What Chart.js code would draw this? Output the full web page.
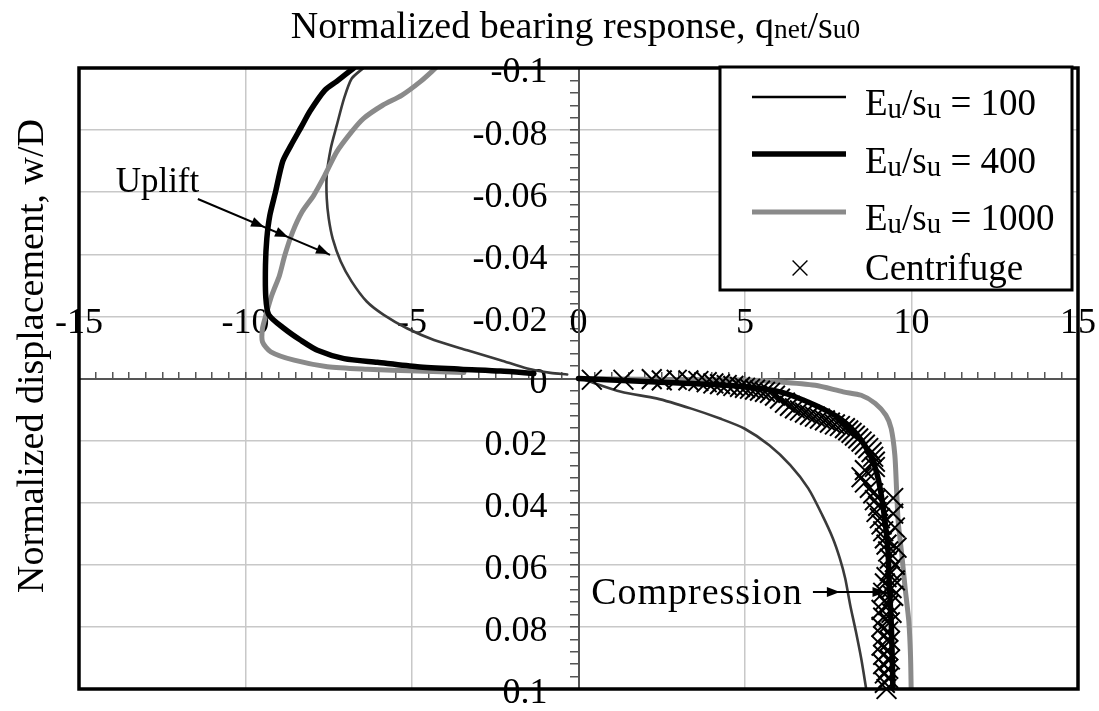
<!DOCTYPE html>
<html>
<head>
<meta charset="utf-8">
<title>Normalized bearing response</title>
<script src="https://cdn.jsdelivr.net/npm/chart.js@4.4.1/dist/chart.umd.min.js"></script>
<style>
  html, body { margin: 0; padding: 0; background: #fff; }
  canvas { display: block; }
</style>
</head>
<body>
<canvas id="chart" width="1099" height="711"></canvas>
<script>
// ---- Data: normalized bearing response q/su0 (Q) against normalized displacement w/D (W) ----
// Eu/su = 100
const eu100UpliftQ = [-6.46, -6.81, -7.04, -7.26, -7.44, -7.56, -7.56, -7.50, -7.38, -7.14, -6.81, -6.36, -5.85, -5.14, -4.34, -3.34, -2.34, -1.54, -0.84, -0.34];
const eu100UpliftW = [-0.1, -0.0966, -0.0902, -0.0815, -0.0741, -0.0654, -0.058, -0.0515, -0.045, -0.0377, -0.0312, -0.0248, -0.0205, -0.0161, -0.0124, -0.0091, -0.0059, -0.0032, -0.0018, -0.0013];
const eu100CompQ = [0.2, 1.28, 2.34, 3.39, 4.25, 4.98, 5.73, 6.36, 6.90, 7.32, 7.64, 7.85, 8.01, 8.16, 8.33, 8.49, 8.64];
const eu100CompW = [0.0005, 0.0043, 0.0064, 0.0097, 0.0129, 0.0161, 0.0215, 0.0279, 0.0354, 0.044, 0.0515, 0.058, 0.0644, 0.073, 0.0815, 0.0902, 0.1];

// Eu/su = 400
const eu400UpliftQ = [-6.75, -7.26, -7.62, -8.07, -8.30, -8.64, -8.88, -9.10, -9.27, -9.36, -9.40, -9.39, -9.30, -8.84, -8.34, -7.84, -7.04, -6.04, -4.84, -3.54, -2.34, -1.34];
const eu400UpliftW = [-0.1, -0.0957, -0.0928, -0.086, -0.0815, -0.075, -0.070, -0.060, -0.0525, -0.045, -0.0365, -0.026, -0.0205, -0.0161, -0.0123, -0.0091, -0.0064, -0.0052, -0.0038, -0.003, -0.0024, -0.0016];
const eu400CompQ = [0, 2.34, 4.46, 6.05, 7.11, 7.85, 8.38, 8.81, 9.02, 9.18, 9.29, 9.33, 9.39, 9.42, 9.44];
const eu400CompW = [0, 0.0011, 0.0022, 0.0043, 0.0086, 0.0129, 0.0183, 0.0258, 0.0333, 0.044, 0.0547, 0.0655, 0.0784, 0.0891, 0.1];

// Eu/su = 1000
const eu1000UpliftQ = [-4.29, -4.74, -5.31, -5.88, -6.46, -6.81, -7.26, -7.62, -7.95, -8.30, -8.58, -8.82, -8.98, -9.21, -9.39, -9.49, -9.49, -9.24, -8.54, -7.54, -6.34, -4.84, -3.44];
const eu1000UpliftW = [-0.1, -0.0957, -0.0912, -0.088, -0.0837, -0.0795, -0.073, -0.0654, -0.059, -0.0537, -0.0473, -0.0397, -0.0332, -0.0268, -0.0203, -0.0161, -0.0118, -0.0086, -0.0059, -0.0038, -0.003, -0.0024, -0.0019];
const eu1000CompQ = [0, 2.5, 4.98, 6.05, 7.11, 7.95, 8.49, 8.91, 9.23, 9.39, 9.50, 9.55, 9.60, 9.71, 9.81, 9.92, 9.97, 9.99];
const eu1000CompW = [0, 0.0003, 0.0005, 0.0011, 0.0022, 0.0043, 0.0054, 0.008, 0.0118, 0.0161, 0.0247, 0.0354, 0.046, 0.0569, 0.0676, 0.0783, 0.0891, 0.1];

// Centrifuge test (compression)
const centrifugeQ = [0.40, 1.35, 2.20, 2.50, 2.95, 3.30, 3.60, 3.85, 4.05, 4.25, 4.45, 4.65, 4.85, 5.00, 5.15, 5.30, 5.45, 5.60, 5.75,
  5.90, 6.05, 6.20, 6.35, 6.50, 6.65, 6.80, 6.95, 7.10, 7.25, 7.40, 7.55, 7.70, 7.85, 8.00, 8.10, 8.20, 8.30, 8.40, 8.50, 8.60, 8.70, 8.80, 8.85, 8.90, 8.90,
  8.60, 8.50, 8.60, 8.75, 8.85, 8.90, 9.00, 9.45, 8.95, 9.05, 9.45, 9.10, 9.15, 9.50, 9.20, 9.25, 9.55, 9.30, 9.35, 9.50,
  9.35, 9.25, 9.50, 9.20, 9.40, 9.15, 9.45, 9.20, 9.30, 9.10, 9.40, 9.15, 9.35, 9.10, 9.30, 9.15, 9.35, 9.10, 9.30, 9.15, 9.35, 9.15, 9.30, 9.20, 9.30, 9.20, 9.25];
const centrifugeW = [0.0004, 0.0004, 0.0002, 0.0006, 0.0004, 0.0006, 0.0008, 0.0012, 0.0016, 0.0018, 0.0021, 0.0024, 0.0027, 0.0030, 0.0033, 0.0036, 0.0039, 0.0043, 0.0046,
  0.0055, 0.0065, 0.0078, 0.0088, 0.0096, 0.0103, 0.0110, 0.0117, 0.0123, 0.0129, 0.0135, 0.0142, 0.0148, 0.0153, 0.0160, 0.0167, 0.0175, 0.0184, 0.0193, 0.0203, 0.0213, 0.0224, 0.0237, 0.0252, 0.0268, 0.0285,
  0.0295, 0.0318, 0.0335, 0.0352, 0.0370, 0.0392, 0.0410, 0.0385, 0.0430, 0.0450, 0.0435, 0.0470, 0.0492, 0.0480, 0.0515, 0.0535, 0.0545, 0.0557, 0.0580, 0.0600,
  0.0620, 0.0640, 0.0650, 0.0660, 0.0675, 0.0690, 0.0700, 0.0715, 0.0730, 0.0745, 0.0755, 0.0770, 0.0785, 0.0800, 0.0815, 0.0830, 0.0845, 0.0860, 0.0875, 0.0890, 0.0905, 0.0920, 0.0935, 0.0950, 0.0965, 0.0980, 0.1000];

// Axis ranges and tick steps
const qRange = [-15, 15];
const wRange = [-0.1, 0.1];
const qMajorStep = 5, qMinorStep = 0.5;
const wMajorStep = 0.02, wMinorStep = 0.004;

// ---- Styling ----
const FONT = '"Liberation Serif", "Times New Roman", Times, serif';
const series = {
  e100:  { label: 'Eu/su = 100',  color: '#3a3a3a', width: 2.6 },
  e400:  { label: 'Eu/su = 400',  color: '#000000', width: 5.5 },
  e1000: { label: 'Eu/su = 1000', color: '#8a8a8a', width: 5 },
  cent:  { label: 'Centrifuge',   color: '#000000' }
};

const toPoints = (qs, ws) => qs.map((q, i) => ({ x: q, y: ws[i] }));
const isMultiple = (v, step) => Math.abs(v / step - Math.round(v / step)) < 1e-6;

function curve(key, qs, ws) {
  const s = series[key];
  return {
    key, label: s.label, data: toPoints(qs, ws), showLine: true,
    borderColor: s.color, backgroundColor: s.color, borderWidth: s.width,
    pointRadius: 0, tension: 0.25, borderJoinStyle: 'round', borderCapStyle: 'round'
  };
}

// first dataset is drawn on top
const datasets = [
  curve('e400', eu400UpliftQ, eu400UpliftW),
  curve('e400', eu400CompQ, eu400CompW),
  {
    key: 'cent', label: series.cent.label, data: toPoints(centrifugeQ, centrifugeW), showLine: false,
    pointStyle: 'crossRot', pointRadius: 14, borderWidth: 2, borderColor: '#000', backgroundColor: 'rgba(0,0,0,0)',
    clip: false
  },
  curve('e1000', eu1000UpliftQ, eu1000UpliftW),
  curve('e1000', eu1000CompQ, eu1000CompW),
  curve('e100', eu100UpliftQ, eu100UpliftW),
  curve('e100', eu100CompQ, eu100CompW)
];

// legend rows (text with subscripts)
const sub = t => ({ t, s: 0.78, dy: 3 });
const legendRows = [
  { key: 'e100',  parts: [{ t: 'E' }, sub('u'), { t: '/s' }, sub('u'), { t: ' = 100' }] },
  { key: 'e400',  parts: [{ t: 'E' }, sub('u'), { t: '/s' }, sub('u'), { t: ' = 400' }] },
  { key: 'e1000', parts: [{ t: 'E' }, sub('u'), { t: '/s' }, sub('u'), { t: ' = 1000' }] },
  { key: 'cent',  parts: [{ t: 'Centrifuge' }] }
];

// annotation anchors in data units
const upliftNote = { text: 'Uplift', q: -13.9, w: -0.0601,
  from: [-11.43, -0.0578], to: [-7.46, -0.0398], heads: [[-9.44, -0.0488], [-8.72, -0.0456], [-7.49, -0.0401]] };
const compressionNote = { text: 'Compression', q: 0.38, w: 0.0725,
  from: [7.04, 0.0688], to: [9.25, 0.0688], heads: [[7.85, 0.0688], [9.22, 0.0688]] };

function richWidth(ctx, parts, size) {
  let w = 0;
  for (const p of parts) { ctx.font = `${size * (p.s || 1)}px ${FONT}`; w += ctx.measureText(p.t).width; }
  return w;
}
function drawRich(ctx, parts, x, y, size) {
  for (const p of parts) {
    ctx.font = `${size * (p.s || 1)}px ${FONT}`;
    ctx.fillText(p.t, x, y + (p.dy || 0));
    x += ctx.measureText(p.t).width;
  }
}
function arrowHead(ctx, x, y, ang, len, half) {
  ctx.beginPath();
  ctx.moveTo(x, y);
  ctx.lineTo(x - len * Math.cos(ang) + half * Math.sin(ang), y - len * Math.sin(ang) - half * Math.cos(ang));
  ctx.lineTo(x - len * Math.cos(ang) - half * Math.sin(ang), y - len * Math.sin(ang) + half * Math.cos(ang));
  ctx.closePath();
  ctx.fill();
}
function drawNote(ctx, xs, ys, note, size) {
  ctx.fillStyle = '#000';
  ctx.strokeStyle = '#000';
  ctx.textAlign = 'left';
  ctx.textBaseline = 'alphabetic';
  ctx.font = `${size}px ${FONT}`;
  ctx.fillText(note.text, xs.getPixelForValue(note.q), ys.getPixelForValue(note.w));
  const x1 = xs.getPixelForValue(note.from[0]), y1 = ys.getPixelForValue(note.from[1]);
  const x2 = xs.getPixelForValue(note.to[0]), y2 = ys.getPixelForValue(note.to[1]);
  ctx.lineWidth = 2;
  ctx.beginPath(); ctx.moveTo(x1, y1); ctx.lineTo(x2, y2); ctx.stroke();
  const ang = Math.atan2(y2 - y1, x2 - x1);
  for (const h of note.heads) arrowHead(ctx, xs.getPixelForValue(h[0]), ys.getPixelForValue(h[1]), ang, 13, 5);
}

const decorPlugin = {
  id: 'decor',
  beforeDraw(chart) {
    const { ctx, width, height } = chart;
    ctx.save(); ctx.fillStyle = '#fff'; ctx.fillRect(0, 0, width, height); ctx.restore();
  },
  afterDatasetsDraw(chart) {
    const { ctx, chartArea: a, scales: { x, y } } = chart;
    ctx.save();

    // plot frame
    ctx.strokeStyle = '#000';
    ctx.lineWidth = 3.5;
    ctx.strokeRect(a.left, a.top, a.right - a.left, a.bottom - a.top);

    // annotations
    drawNote(ctx, x, y, upliftNote, 35);
    ctx.letterSpacing = '1px';
    drawNote(ctx, x, y, compressionNote, 38);
    ctx.letterSpacing = '0px';

    // legend box
    const L = { left: a.left + 641, top: a.top - 1, right: a.right - 6, bottom: a.top + 222 };
    ctx.fillStyle = '#fff';
    ctx.fillRect(L.left, L.top, L.right - L.left, L.bottom - L.top);
    ctx.strokeStyle = '#000';
    ctx.lineWidth = 3;
    ctx.strokeRect(L.left, L.top, L.right - L.left, L.bottom - L.top);
    const rowMark = [30, 87, 145, 201];
    const rowText = [48, 106, 163, 213];
    legendRows.forEach((row, i) => {
      const ds = chart.data.datasets.find(d => d.key === row.key);
      const my = L.top + rowMark[i];
      if (ds.showLine) {
        ctx.strokeStyle = row.key === 'e100' ? '#000' : ds.borderColor;
        ctx.lineWidth = ds.borderWidth;
        ctx.lineCap = 'butt';
        ctx.beginPath(); ctx.moveTo(L.left + 32, my); ctx.lineTo(L.left + 126, my); ctx.stroke();
      } else {
        ctx.strokeStyle = ds.borderColor;
        ctx.lineWidth = 1.4;
        Chart.helpers.drawPoint(ctx, { pointStyle: ds.pointStyle, radius: 10.5, borderWidth: 1.4, rotation: 0 }, L.left + 80, my);
      }
      ctx.fillStyle = '#000';
      ctx.textAlign = 'left';
      ctx.textBaseline = 'alphabetic';
      drawRich(ctx, row.parts, L.left + 145, L.top + rowText[i], 37);
    });

    // axis titles
    const titleParts = [{ t: 'Normalized bearing response, ' }, { t: 'q' }, { t: 'net', s: 0.72 }, { t: '/' }, { t: 's' }, { t: 'u0', s: 0.72 }];
    const tw = richWidth(ctx, titleParts, 38);
    ctx.fillStyle = '#000';
    drawRich(ctx, titleParts, (a.left + a.right) / 2 - tw / 2 - 3, 38, 38);

    ctx.translate(43, 356);
    ctx.rotate(-Math.PI / 2);
    ctx.font = `38px ${FONT}`;
    ctx.textAlign = 'center';
    ctx.fillText('Normalized displacement, w/D', 0, 0);
    ctx.restore();
  }
};

const zeroPadding = s => { s.paddingLeft = 0; s.paddingRight = 0; s.paddingTop = 0; s.paddingBottom = 0; };

new Chart(document.getElementById('chart'), {
  type: 'scatter',
  data: { datasets },
  options: {
    responsive: false,
    animation: false,
    devicePixelRatio: 1,
    events: [],
    layout: { padding: { left: 79, top: 68, right: 21, bottom: 22 } },
    plugins: { legend: { display: false }, tooltip: { enabled: false } },
    scales: {
      x: {
        type: 'linear', position: 'center', min: qRange[0], max: qRange[1],
        afterFit: zeroPadding,
        ticks: {
          stepSize: qMinorStep, autoSkip: false, maxRotation: 0, minRotation: 0, maxTicksLimit: 200,
          padding: -69, color: '#000', font: { family: FONT, size: 36 },
          callback: v => isMultiple(v, qMajorStep) ? String(Math.round(v)) : ''
        },
        grid: {
          color: c => isMultiple(c.tick.value, qMajorStep) ? '#c8c8c8' : 'rgba(0,0,0,0)',
          lineWidth: 1.5, tickLength: -8, tickColor: '#555', tickWidth: 1.5
        },
        border: { display: true, color: '#555', width: 2 }
      },
      y: {
        type: 'linear', position: 'center', min: wRange[0], max: wRange[1], reverse: true,
        afterFit: zeroPadding,
        ticks: {
          stepSize: wMinorStep, autoSkip: false, maxTicksLimit: 200, labelOffset: 5,
          padding: 23, color: '#000', font: { family: FONT, size: 36 },
          callback: v => isMultiple(v, wMajorStep) ? String(Math.round(v * 100) / 100) : ''
        },
        grid: {
          color: c => isMultiple(c.tick.value, wMajorStep) ? '#c8c8c8' : 'rgba(0,0,0,0)',
          lineWidth: 1.5, tickLength: 8, tickColor: '#555', tickWidth: 1.5
        },
        border: { display: true, color: '#555', width: 2 }
      }
    }
  },
  plugins: [decorPlugin]
});
</script>
</body>
</html>
